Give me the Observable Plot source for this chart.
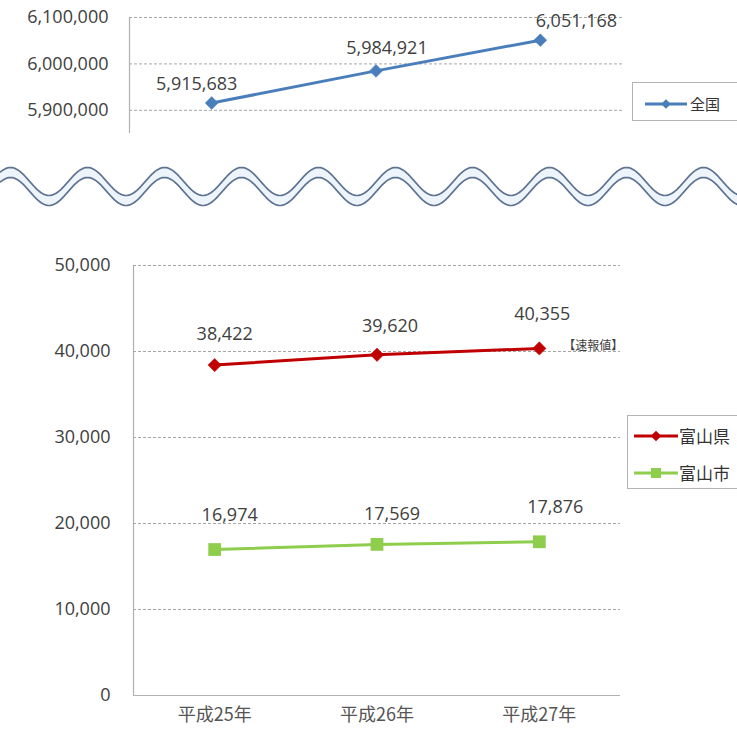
<!DOCTYPE html>
<html>
<head>
<meta charset="utf-8">
<script src="https://cdn.jsdelivr.net/npm/d3@7"></script>
<script src="https://cdn.jsdelivr.net/npm/@observablehq/plot@0.6"></script>
<style>
  html, body { margin: 0; padding: 0; background: #fff; }
  #root { position: relative; width: 737px; height: 733px; overflow: hidden; background: #fff; font-family: "Open Sans", sans-serif; color: #404040; }
  .abs { position: absolute; }
  .legend { position: absolute; border: 1px solid #b4b4b4; background: #fff; }
  .legrow { position: absolute; left: 0; display: flex; align-items: center; }
  .legrow span { font-family: "Noto Sans CJK JP", sans-serif; color: #333; white-space: nowrap; }
</style>
</head>
<body>
<div id="root">
  <div id="topChart" class="abs" style="left:0;top:0"></div>
  <div id="wave" class="abs" style="left:0;top:150px"></div>
  <div id="bottomChart" class="abs" style="left:0;top:230px"></div>
  <div id="legTop" class="legend" style="left:632px;top:82px;width:130px;height:37px"></div>
  <div id="legBottom" class="legend" style="left:627px;top:415px;width:130px;height:72px"></div>
</div>
<script>
// ---- data ----
const years = ["平成25年", "平成26年", "平成27年"];
const national = [5915683, 5984921, 6051168];
const toyamaPref = [38422, 39620, 40355];
const toyamaCity = [16974, 17569, 17876];
const topTicks = [5900000, 6000000, 6100000];
const bottomTicks = [0, 10000, 20000, 30000, 40000, 50000];
const seriesNames = ["全国", "富山県", "富山市"];
const noteText = "【速報値】";

const fmt = d3.format(",");
const toRows = vals => vals.map((v, i) => ({i, v}));
const natRows = toRows(national);
const prefRows = toRows(toyamaPref);
const cityRows = toRows(toyamaCity);

const BLUE = "#4a7ebb", RED = "#c00000", GREEN = "#8fce4c";
const GRID = "#a6a6a6", AXIS = "#b0b0b0", TEXT = "#404040";

// per-label nudges (label layout only)
const natNudge = [[-15, -19], [11, -23], [36, -19]];
const prefNudge = [[10, -31], [13, -29], [3, -34]];
const cityNudge = [[15, -34], [15, -30], [16, -35]];

function labels(rows, nudges) {
  return rows.map((r, k) => Plot.text([r], {
    x: "i", y: "v", text: d => fmt(d.v),
    dx: nudges[k][0], dy: nudges[k][1],
    fontSize: 18, fill: TEXT, fontFamily: "Open Sans"
  }));
}

// ---- top chart (全国) ----
const topPlot = Plot.plot({
  width: 737, height: 140,
  marginLeft: 129, marginRight: 115, marginTop: 17, marginBottom: 7,
  x: {domain: [-0.5, 2.5], axis: null},
  y: {domain: [5850000, 6100000], axis: null},
  style: {fontFamily: "Open Sans", color: TEXT, background: "transparent", overflow: "visible"},
  marks: [
    Plot.ruleY(topTicks, {stroke: GRID, strokeDasharray: "3,2"}),
    Plot.ruleX([-0.5], {stroke: AXIS, strokeWidth: 1.2}),
    Plot.axisY({ticks: topTicks, tickSize: 0, tickPadding: 21, tickFormat: fmt, fontSize: 18, label: null}),
    Plot.line(natRows, {x: "i", y: "v", stroke: BLUE, strokeWidth: 3}),
    Plot.dot(natRows, {x: "i", y: "v", symbol: "diamond2", r: 5.8, fill: BLUE, stroke: BLUE, strokeWidth: 0.5}),
    ...labels(natRows, natNudge)
  ]
});
document.getElementById("topChart").appendChild(topPlot);

// ---- wave break decoration ----
const waveXs = d3.range(0, 738, 1);
const waveRows = waveXs.map(x => ({x, y: 31 - 14 * Math.cos(2 * Math.PI * (x - 87) / 77)}));
const wavePlot = Plot.plot({
  width: 737, height: 70, margin: 0,
  x: {domain: [0, 737], range: [0, 737], axis: null},
  y: {domain: [0, 70], range: [0, 70], axis: null},
  style: {background: "transparent"},
  marks: [
    Plot.line(waveRows, {x: "x", y: d => d.y + 5, stroke: "#eef4fb", strokeWidth: 8}),
    Plot.line(waveRows, {x: "x", y: "y", stroke: "#5d7291", strokeWidth: 1.7}),
    Plot.line(waveRows, {x: "x", y: d => d.y + 10, stroke: "#5d7291", strokeWidth: 1.7})
  ]
});
document.getElementById("wave").appendChild(wavePlot);

// ---- bottom chart (富山県・富山市) ----
const bottomPlot = Plot.plot({
  width: 737, height: 503,
  marginLeft: 133, marginRight: 117, marginTop: 35, marginBottom: 38,
  x: {domain: [-0.5, 2.5], axis: null},
  y: {domain: [0, 50000], axis: null},
  style: {fontFamily: "Open Sans", color: TEXT, background: "transparent", overflow: "visible"},
  marks: [
    Plot.ruleY(bottomTicks.filter(t => t > 0), {stroke: GRID, strokeDasharray: "3,2"}),
    Plot.ruleY([0], {stroke: AXIS, strokeWidth: 1.2}),
    Plot.ruleX([-0.5], {stroke: AXIS, strokeWidth: 1.2}),
    Plot.axisY({ticks: bottomTicks, tickSize: 0, tickPadding: 23, tickFormat: fmt, fontSize: 18, label: null}),
    Plot.axisX({ticks: [0, 1, 2], tickSize: 0, tickPadding: 13, tickFormat: i => years[i],
      fontSize: 18, fontFamily: "Noto Sans CJK JP", fill: "#555", label: null}),
    Plot.line(prefRows, {x: "i", y: "v", stroke: RED, strokeWidth: 3}),
    Plot.dot(prefRows, {x: "i", y: "v", symbol: "diamond2", r: 6, fill: RED, stroke: RED, strokeWidth: 0.5}),
    Plot.line(cityRows, {x: "i", y: "v", stroke: GREEN, strokeWidth: 3}),
    Plot.dot(cityRows, {x: "i", y: "v", symbol: "square", r: 7.2, fill: GREEN}),
    ...labels(prefRows, prefNudge),
    ...labels(cityRows, cityNudge),
    Plot.text([prefRows[2]], {x: "i", y: "v", text: () => noteText, dx: 24, dy: -2,
      textAnchor: "start", fontSize: 12, fill: TEXT, fontFamily: "Noto Sans CJK JP"})
  ]
});
document.getElementById("bottomChart").appendChild(bottomPlot);

// ---- legends ----
function swatch(color, symbol, w, h, size) {
  const s = d3.create("svg").attr("width", w).attr("height", h);
  s.append("line").attr("x1", 0).attr("x2", w).attr("y1", h / 2).attr("y2", h / 2)
    .attr("stroke", color).attr("stroke-width", 3);
  s.append("path").attr("transform", `translate(${w / 2},${h / 2})`)
    .attr("d", d3.symbol(symbol, size)()).attr("fill", color);
  return s.node();
}
function legendRow(parent, top, left, color, symbol, name, fontSize, w, size, gap) {
  const row = document.createElement("div");
  row.className = "legrow";
  row.style.top = top + "px";
  row.style.left = left + "px";
  row.appendChild(swatch(color, symbol, w, 14, size));
  const sp = document.createElement("span");
  sp.textContent = name;
  sp.style.fontSize = fontSize + "px";
  sp.style.marginLeft = gap + "px";
  row.appendChild(sp);
  parent.appendChild(row);
}
legendRow(document.getElementById("legTop"), 10, 12, BLUE, d3.symbolDiamond2, seriesNames[0], 15, 42, 60, 3);
legendRow(document.getElementById("legBottom"), 7, 6, RED, d3.symbolDiamond2, seriesNames[1], 17, 44, 70, 1);
legendRow(document.getElementById("legBottom"), 44, 6, GREEN, d3.symbolSquare, seriesNames[2], 17, 44, 100, 1);
</script>
</body>
</html>
